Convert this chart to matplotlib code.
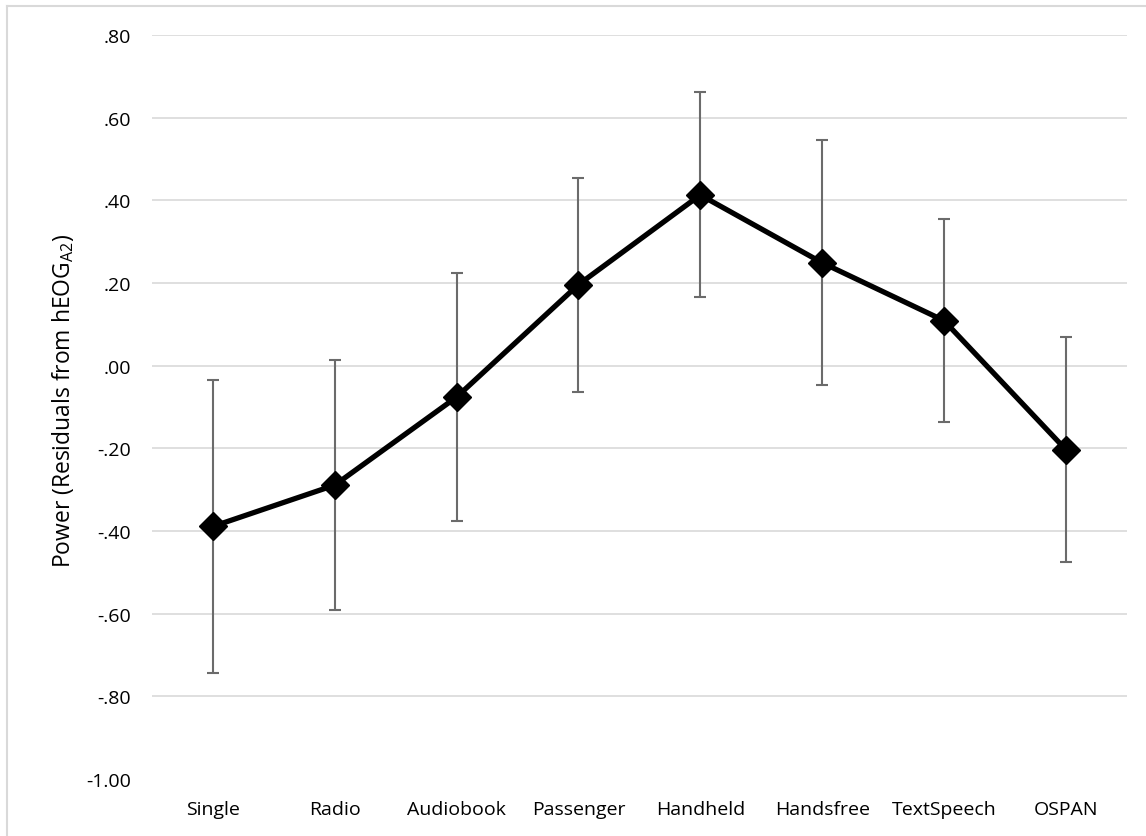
import numpy as np
import matplotlib
matplotlib.use('Agg')
import matplotlib.pyplot as plt
from matplotlib.lines import Line2D

plt.rcParams['font.family'] = ['Open Sans', 'DejaVu Sans']

# values
conditions = ["Single", "Radio", "Audiobook", "Passenger", "Handheld",
              "Handsfree", "TextSpeech", "OSPAN"]
power = [-0.389, -0.289, -0.076, 0.196, 0.413, 0.249, 0.109, -0.203]
err = [0.355, 0.303, 0.300, 0.259, 0.248, 0.296, 0.246, 0.272]
yticks = [0.8, 0.6, 0.4, 0.2, 0.0, -0.2, -0.4, -0.6, -0.8, -1.0]

def fmt(v):
    s = "%.2f" % v
    return s.replace("0.", ".") if abs(v) < 1 else s

fig = plt.figure(figsize=(11.46, 8.37), dpi=100)
ax = fig.add_axes([0.1326, 0.0681, 0.9832 - 0.1326, 0.957 - 0.0681])

x = np.arange(len(conditions))
for yv in yticks:
    if yv > -1.0:
        ax.axhline(yv, color='#d9d9d9', lw=1.2, zorder=0)

ax.errorbar(x, power, yerr=err, fmt='none', ecolor='#6b6b6b', elinewidth=1.5,
            capsize=4.3, capthick=1.5, zorder=2)
ax.plot(x, power, color='black', lw=3.8, marker='D', markersize=14,
        zorder=3)

ax.set_xlim(-0.5, len(conditions) - 0.5)
ax.set_ylim(-1.0, 0.8)
ax.set_xticks(x)
ax.set_xticklabels(conditions, fontsize=14, color='#000000')
ax.set_yticks(yticks)
ax.set_yticklabels([fmt(v) for v in yticks], fontsize=14, color='#000000')
ax.tick_params(axis='both', length=0)
ax.tick_params(axis='x', pad=15)
ax.tick_params(axis='y', pad=15)
for sp in ax.spines.values():
    sp.set_visible(False)

ax.set_ylabel(r'Power (Residuals from hEOG$_{\mathregular{A2}}$)', fontsize=16.5)
ax.yaxis.set_label_coords(-0.078, 0.509)

# light chart border on left/top (as in the cropped original)
fig.add_artist(Line2D([0.006, 0.006], [0.0, 0.992], color='#d9d9d9', lw=1.5,
                      transform=fig.transFigure))
fig.add_artist(Line2D([0.006, 1.0], [0.992, 0.992], color='#d9d9d9', lw=1.5,
                      transform=fig.transFigure))

fig.savefig('out.png', dpi=100)
plt.close(fig)
